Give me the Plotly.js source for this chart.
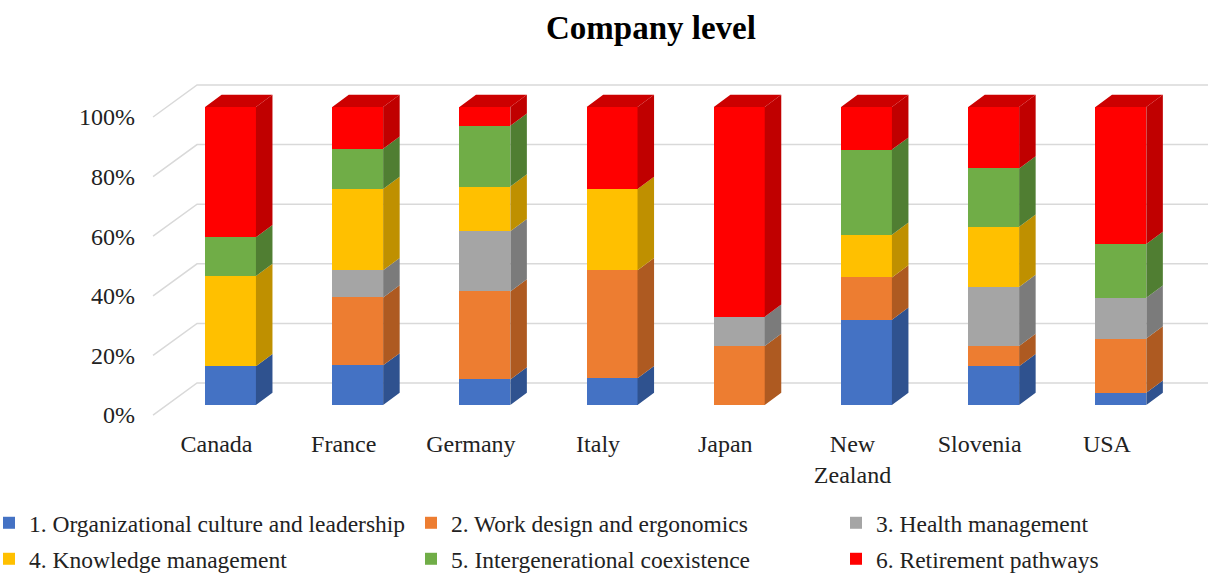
<!DOCTYPE html>
<html>
<head>
<meta charset="utf-8">
<script src="https://cdn.plot.ly/plotly-3.0.1.min.js"></script>
<style>html,body{margin:0;padding:0;background:#fff;}#chart{width:1208px;height:577px;}</style>
</head>
<body>
<div id="chart"></div>
<script>
// ---- data ----
const countries = ['Canada', 'France', 'Germany', 'Italy', 'Japan', 'New Zealand', 'Slovenia', 'USA'];
const countryLabels = ['Canada', 'France', 'Germany', 'Italy', 'Japan', 'New<br>Zealand', 'Slovenia', 'USA'];
const seriesNames = [
  '1. Organizational culture and leadership',
  '2. Work design and ergonomics',
  '3. Health management',
  '4. Knowledge management',
  '5. Intergenerational coexistence',
  '6. Retirement pathways'
];
const orgCulture  = [13.0, 13.3,  8.6,  9.0,  0.0, 28.6, 13.0,  4.1];
const workDesign  = [ 0.0, 22.8, 29.5, 36.2, 19.8, 14.2,  6.8, 18.2];
const health      = [ 0.0,  9.1, 20.2,  0.0,  9.8,  0.0, 19.8, 13.7];
const knowledge   = [30.3, 27.3, 15.0, 27.3,  0.0, 14.3, 20.2,  0.0];
const coexistence = [13.0, 13.5, 20.4,  0.0,  0.0, 28.6, 19.6, 18.0];
const retirement  = [43.7, 14.0,  6.3, 27.5, 70.4, 14.3, 20.6, 46.0];
const yTickVals = [0, 20, 40, 60, 80, 100];
const yTickText = ['0%', '20%', '40%', '60%', '80%', '100%'];

// ---- styles ----
const frontColors = ['#4472C4', '#ED7D31', '#A5A5A5', '#FFC000', '#70AD47', '#FF0000'];
const sideColors  = ['#2F528F', '#AE5A21', '#7B7B7B', '#BF9000', '#507E32', '#C00000'];
const topColor = '#CC0000';
const FONT = 'Liberation Serif, Times New Roman, serif';

const allSeries = [orgCulture, workDesign, health, knowledge, coexistence, retirement];
const xIdx = countries.map((_, i) => i);
const barW = 0.4, dx = 0.13, dy = 4.1;
const xRange = [-0.7115, 7.685];
const yRange = [-7.38, 135.9];

const traces = [];
// front faces
allSeries.forEach((vals, s) => {
  traces.push({
    type: 'bar', x: xIdx, y: vals, width: barW, name: seriesNames[s],
    marker: {color: frontColors[s], line: {width: 0}},
    legend: s === 0 ? 'legend' : 'legend' + (s + 1),
    hoverinfo: 'skip'
  });
});
// side faces
const cum = countries.map(() => 0);
allSeries.forEach((vals, s) => {
  const xs = [], ys = [];
  vals.forEach((v, i) => {
    const y0 = cum[i], y1 = cum[i] + v;
    if (v > 0) {
      const xr = i + barW / 2;
      xs.push(xr, xr + dx, xr + dx, xr, xr, null);
      ys.push(y0, y0 + dy, y1 + dy, y1, y0, null);
    }
    cum[i] = y1;
  });
  traces.push({type: 'scatter', x: xs, y: ys, mode: 'lines', fill: 'toself',
    fillcolor: sideColors[s], line: {width: 0}, showlegend: false, hoverinfo: 'skip'});
});
// top faces
{
  const xs = [], ys = [];
  cum.forEach((t, i) => {
    const xl = i - barW / 2, xr = i + barW / 2;
    xs.push(xl, xl + dx, xr + dx, xr, xl, null);
    ys.push(t, t + dy, t + dy, t, t, null);
  });
  traces.push({type: 'scatter', x: xs, y: ys, mode: 'lines', fill: 'toself',
    fillcolor: topColor, line: {width: 0}, showlegend: false, hoverinfo: 'skip'});
}

// back-wall gridlines (from tick values)
const shapes = yTickVals.map(t => ({
  type: 'path', xref: 'x', yref: 'y', layer: 'below',
  path: `M ${-0.609},${t - 3.36} L ${-0.263},${t + 7.38} L ${xRange[1]},${t + 7.38}`,
  line: {color: '#D9D9D9', width: 1.5}
}));

// legends positions (paper coords: plot area px 140..1208 x, 0..427 y)
const pxX = px => (px - 140) / 1068;
const pxY = py => (427 - py) / 427;
const legendPos = [[-11, 523], [411, 523], [836, 523], [-11, 559], [411, 559], [836, 559]];
const layout = {
  width: 1208, height: 577,
  margin: {l: 140, r: 0, t: 0, b: 150, autoexpand: false},
  paper_bgcolor: '#fff', plot_bgcolor: 'rgba(0,0,0,0)',
  barmode: 'stack',
  title: {text: '<b>Company level</b>', font: {family: FONT, size: 33, color: '#000'},
    xref: 'paper', x: pxX(651), xanchor: 'center', yref: 'container', y: 1 - 27 / 577, yanchor: 'middle'},
  xaxis: {range: xRange, showgrid: false, zeroline: false, showline: false, automargin: false,
    tickmode: 'array', tickvals: xIdx.map(i => i - 0.11), ticktext: countryLabels,
    tickfont: {family: FONT, size: 24, color: '#222'}, ticks: ''},
  yaxis: {range: yRange, showgrid: false, zeroline: false, showline: false, automargin: false,
    tickmode: 'array', tickvals: yTickVals, ticktext: yTickText, ticks: '',
    tickfont: {family: FONT, size: 24, color: '#222'}, ticklabelshift: 10, ticklabelstandoff: 4},
  shapes: shapes,
  showlegend: true
};
legendPos.forEach((p, k) => {
  const key = k === 0 ? 'legend' : 'legend' + (k + 1);
  layout[key] = {x: pxX(p[0]), y: pxY(p[1]), xanchor: 'left', yanchor: 'middle',
    orientation: 'v', bgcolor: 'rgba(0,0,0,0)', font: {family: FONT, size: 23.5, color: '#222'}};
});
Plotly.newPlot('chart', traces, layout, {displayModeBar: false, staticPlot: true});
</script>
</body>
</html>
